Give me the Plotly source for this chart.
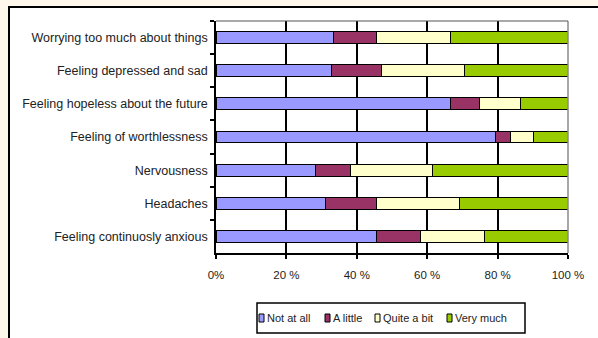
import plotly.graph_objects as go

# Survey items, listed top to bottom
categories = [
    "Worrying too much about things",
    "Feeling depressed and sad",
    "Feeling hopeless about the future",
    "Feeling of worthlessness",
    "Nervousness",
    "Headaches",
    "Feeling continuosly anxious",
]

# Share of respondents per answer (%)
not_at_all = [33.5, 32.7, 66.5, 79.3, 28.4, 31.0, 45.6]
a_little = [12.1, 14.2, 8.3, 4.4, 9.7, 14.6, 12.6]
quite_a_bit = [20.9, 23.6, 11.6, 6.5, 23.5, 23.5, 18.0]
very_much = [33.5, 29.5, 13.6, 9.8, 38.4, 30.9, 23.8]

series_names = ["Not at all", "A little", "Quite a bit", "Very much"]
series_values = [not_at_all, a_little, quite_a_bit, very_much]
series_colors = ["#9999FF", "#993366", "#FFFFCC", "#99CC00"]

tick_vals = [0, 20, 40, 60, 80, 100]
tick_text = ["0%", "20 %", "40 %", "60 %", "80 %", "100 %"]

fig = go.Figure()
for name, vals, color in zip(series_names, series_values, series_colors):
    fig.add_trace(go.Bar(
        y=categories, x=vals, name=name, orientation="h",
        marker=dict(color=color, line=dict(color="black", width=1)),
        showlegend=False,
    ))

# Plot area in pixels: x 216..568, y 21..253
L, R, T, B = 216, 30, 21, 85
W, H = 598, 338
pw, ph = W - L - R, H - T - B

def px(x):
    return (x - L) / pw

def py(y):
    return (H - B - y) / ph

shapes = [
    # chart frame on the cream page
    dict(type="rect", xref="paper", yref="paper", layer="below",
         x0=px(9), x1=px(640), y0=py(400), y1=py(7),
         fillcolor="white", line=dict(color="black", width=2)),
    # right edge of the plot area
    dict(type="line", xref="paper", yref="paper", x0=1, x1=1, y0=0, y1=1,
         line=dict(color="#8a8a8a", width=1.5)),
    # top edge of the plot area
    dict(type="line", xref="paper", yref="paper", x0=0, x1=1, y0=1, y1=1,
         line=dict(color="#555555", width=1.2)),
    # legend box
    dict(type="rect", xref="paper", yref="paper",
         x0=px(257), x1=px(525), y0=py(333), y1=py(303),
         fillcolor="white", line=dict(color="black", width=1.5)),
]

annotations = []
# legend entries: swatch left edge and label left edge (px)
legend_swatch_x = [259, 325, 375, 447]
legend_text_x = [265, 331, 381, 453]
for name, color, sx, tx in zip(series_names, series_colors, legend_swatch_x, legend_text_x):
    shapes.append(dict(
        type="rect", xref="paper", yref="paper",
        x0=px(sx), x1=px(sx + 5), y0=py(322), y1=py(314),
        fillcolor=color, line=dict(color="black", width=1),
    ))
    annotations.append(dict(
        xref="paper", yref="paper", x=px(tx), y=py(318),
        xanchor="left", yanchor="middle", showarrow=False,
        text=name, font=dict(size=11, color="#222222"),
    ))

fig.update_layout(
    width=W, height=H,
    margin=dict(l=L, r=R, t=T, b=B),
    barmode="stack",
    bargap=0.64,
    paper_bgcolor="#FDF8EB",
    plot_bgcolor="white",
    font=dict(family="Liberation Sans, Arial, sans-serif", size=11, color="#222222"),
    shapes=shapes,
    annotations=annotations,
    showlegend=False,
)

fig.update_xaxes(
    range=[0, 100], tickvals=tick_vals, ticktext=tick_text,
    showgrid=True, gridcolor="black", gridwidth=1.5,
    showline=True, linecolor="black", linewidth=1.5,
    ticks="outside", ticklen=4, tickcolor="black", tickwidth=1.5,
    ticklabelstandoff=6,
    zeroline=False, fixedrange=True,
    tickfont=dict(size=11.5),
)
fig.update_yaxes(
    autorange="reversed", type="category",
    showgrid=False, showline=True, linecolor="black", linewidth=1.5,
    ticks="outside", ticklen=4, tickcolor="black", tickwidth=1.5,
    tickson="boundaries", ticklabelstandoff=4,
    tickfont=dict(size=12.5),
)

fig.write_html("out.html")
